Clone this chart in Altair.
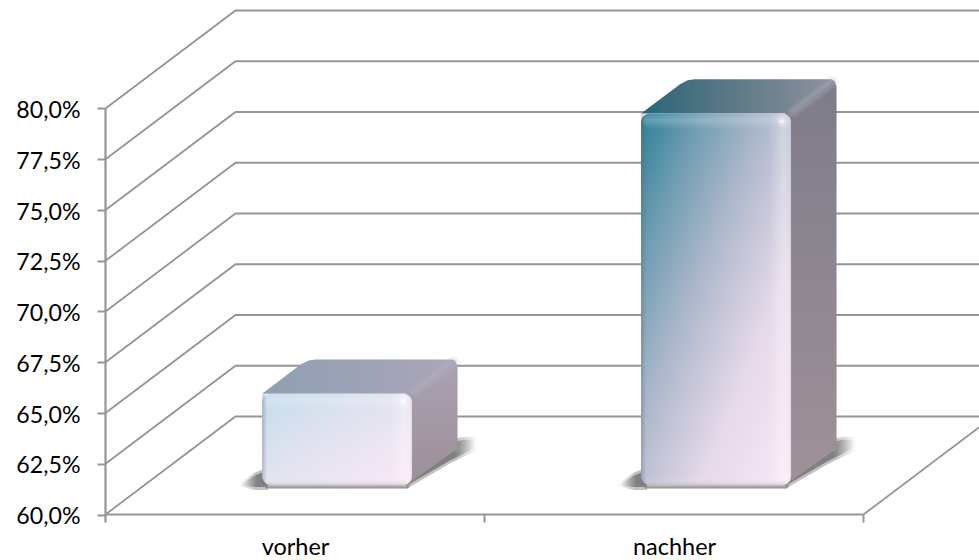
import altair as alt

# Survey result before and after, drawn as 3D columns on a walled floor.
categories = ["vorher", "nachher"]
values = [64.5, 78.3]
y_ticks = [60.0, 62.5, 65.0, 67.5, 70.0, 72.5, 75.0, 77.5, 80.0]
x_ticks = [0, 1, 2]

W, H = 979, 560
PX_X = 1 / 379.0     # category units per pixel
PX_Y = 1 / 20.3      # percentage points per pixel
FLOOR = 60.0
DEPTH_X = 130 * PX_X  # oblique shift of the back wall
DEPTH_Y = 98 * PX_Y
X_DOMAIN = [-105.5 * PX_X, (W - 105.5) * PX_X]
Y_DOMAIN = [FLOOR - (H - 514.5) * PX_Y, FLOOR + 514.5 * PX_Y]
FRONT, BACK = 0.30, 0.65
HALF = 75 * PX_X
CENTER_SHIFT = 0.508
GRID = "#959595"

X_AXIS = alt.Axis(
    values=[0.5, 1.5], tickSize=0, domain=False, grid=False, offset=-45,
    labelExpr="datum.value < 1 ? '%s' : '%s'" % tuple(categories),
    labelFont="Lato", labelFontSize=23.5, labelColor="black", labelPadding=20, labelFlush=False,
)
Y_AXIS = alt.Axis(
    values=y_ticks, tickSize=8, tickColor=GRID, tickWidth=2, domain=False, grid=False, offset=-105,
    labelExpr="replace(format(datum.value, '.1f'), '.', ',') + '%'",
    labelFont="Lato", labelFontSize=23.2, labelColor="black", labelPadding=17, labelOffset=2,
)


def proj(c, v, d=0.0):
    return {"x": c + d * DEPTH_X, "y": v + d * DEPTH_Y}


def X(**kw):
    return alt.X("x:Q", scale=alt.Scale(domain=X_DOMAIN, nice=False, zero=False), axis=X_AXIS, title=None, **kw)


def Y(**kw):
    return alt.Y("y:Q", scale=alt.Scale(domain=Y_DOMAIN, nice=False, zero=False), axis=Y_AXIS, title=None, **kw)


def grad(stops, x1=0, y1=0, x2=1, y2=1):
    return alt.Gradient(
        gradient="linear", x1=x1, y1=y1, x2=x2, y2=y2,
        stops=[alt.GradientStop(offset=o, color=c) for o, c in stops],
    )


def poly(points, color, **mark):
    """Filled shape whose outline is a top and bottom edge sharing x positions."""
    rows = [{"x": x, "y": top, "y2": bot} for x, top, bot in points]
    return alt.Chart(alt.Data(values=rows)).mark_area(color=color, clip=True, **mark).encode(
        x=X(), y=Y(), y2="y2:Q"
    )


def rect(x0, x1, y0, y1, color, **mark):
    rows = [{"x": x0, "x2": x1, "y": y1, "y2": y0}]
    return alt.Chart(alt.Data(values=rows)).mark_rect(color=color, **mark).encode(
        x=X(), x2="x2:Q", y=Y(), y2="y2:Q"
    )


layers = []

# Walls and floor: each gridline runs back along the side wall, then across the rear wall.
rows = []
for v in y_ticks:
    for k, (c, d) in enumerate([(0, 0), (0, 1), (2, 1)]):
        rows.append({**proj(c, v, d), "v": v, "k": k})
layers.append(
    alt.Chart(alt.Data(values=rows)).mark_line(color=GRID, strokeWidth=1.8, clip=True).encode(
        x=X(), y=Y(), detail="v:N", order="k:Q",
    )
)

# Right floor edge and the front axis lines with their ticks.
edge = [proj(2, FLOOR, 0), proj(2, FLOOR, 1)]
layers.append(alt.Chart(alt.Data(values=edge)).mark_line(color=GRID, strokeWidth=1.8, clip=True).encode(x=X(), y=Y()))
front_base = [proj(0, FLOOR), proj(2, FLOOR)]
layers.append(alt.Chart(alt.Data(values=front_base)).mark_line(color=GRID, strokeWidth=2.2).encode(x=X(), y=Y()))
left_axis = [proj(0, FLOOR - 8 * PX_Y), proj(0, y_ticks[-1])]
layers.append(alt.Chart(alt.Data(values=left_axis)).mark_line(color=GRID, strokeWidth=2.2).encode(x=X(), y=Y()))
for t in x_ticks[1:]:
    tick = [proj(t, FLOOR - 8 * PX_Y), proj(t, FLOOR)]
    layers.append(alt.Chart(alt.Data(values=tick)).mark_line(color=GRID, strokeWidth=2).encode(x=X(), y=Y()))

# Colour ramps per column: the short column only reaches the pale end of the ramp.
styles = [
    dict(front=[(0, "#c4dcec"), (0.5, "#e4e3f1"), (1, "#fbe8f7")],
         top=[(0, "#8f9fb2"), (1, "#aba6b8")],
         side=[(0, "#aaa2b2"), (1, "#9c8f98")]),
    dict(front=[(0, "#2c7f98"), (0.2, "#6f9db2"), (0.42, "#adb8cb"), (0.7, "#e6d9ea"), (1, "#fbe8f7")],
         top=[(0, "#2a6579"), (0.5, "#5f7a87"), (1, "#8f919f")],
         side=[(0, "#7d7c88"), (1, "#a0919a")]),
]

for i, (val, st) in enumerate(zip(values, styles)):
    c = i + CENTER_SHIFT
    l, r = c - HALF, c + HALF
    fx, fy = FRONT * DEPTH_X, FRONT * DEPTH_Y
    bx, by = BACK * DEPTH_X, BACK * DEPTH_Y
    base = FLOOR + fy
    top = val + fy
    back_base = FLOOR + by
    back_top = val + by

    # Soft cast shadow: a wide faint pass under a narrower dark one.
    for grow, fade in [(3, 0.34), (0, 0.55)]:
        ink = "rgba(75,75,75,%s)" % fade
        clear = "rgba(75,75,75,0)"
        layers.append(poly(
            [(l + fx - (20 + grow) * PX_X, base + 1 * PX_Y, base - 1 * PX_Y),
             (l + fx - 8 * PX_X, base + (9 + grow) * PX_Y, base - (2 + grow) * PX_Y),
             (l + fx + 6 * PX_X, base + (15 + grow) * PX_Y, base - (2 + grow) * PX_Y)],
            grad([(0, clear), (0.6, ink), (1, ink)], 0, 0, 1, 0),
        ))
        layers.append(poly(
            [(r + fx - 6 * PX_X, base + 6 * PX_Y, base - (1 + grow) * PX_Y),
             (r + bx - 8 * PX_X, back_base + (8 + grow) * PX_Y, back_base - (10 + grow) * PX_Y),
             (r + bx + 6 * PX_X, back_base + (11 + grow) * PX_Y, back_base - (3 + grow) * PX_Y),
             (r + bx + (17 + grow) * PX_X, back_base + (11 + grow) * PX_Y, back_base + (3 - grow) * PX_Y)],
            grad([(0, ink), (0.7, ink), (1, clear)], 0, 0, 1, 0),
        ))
    layers.append(rect(l + fx + 2 * PX_X, r + fx - 2 * PX_X, base - 3.5 * PX_Y, base + 4 * PX_Y,
                       grad([(0, "#8a8a8a"), (1, "rgba(140,140,140,0)")], 0, 1, 0, 0), cornerRadius=4))

    # Right side of the column, a parallelogram with a softened rear corner.
    layers.append(poly(
        [(r + fx - 6 * PX_X, top, base),
         (r + bx - 6 * PX_X, back_top - 0 * PX_Y, back_base - 2 * PX_Y),
         (r + bx - 2 * PX_X, back_top - 2 * PX_Y, back_base + 0 * PX_Y),
         (r + bx, back_top - 7 * PX_Y, back_base)],
        grad(st["side"], 0, 0, 0, 1),
    ))

    # Top of the column: a horizontal band sheared towards the back.
    rows = []
    steps = [(FRONT, 0, 0), (BACK - 0.05, 0, 0), (BACK - 0.01, 2.5, -1.5), (BACK, 8, -6)]
    for d, inset_l, inset_r in steps:
        rows.append({"x": l + d * DEPTH_X + inset_l * PX_X,
                     "x2": r + d * DEPTH_X + inset_r * PX_X,
                     "y": val + d * DEPTH_Y})
    layers.append(
        alt.Chart(alt.Data(values=rows)).mark_area(orient="horizontal", color=grad(st["top"], 0, 0, 1, 0)).encode(
            x=X(), x2="x2:Q", y=Y()
        )
    )

    # Bevel running from the front corner to the rear corner.
    ridge = [proj(r, val, FRONT + 0.02), proj(r, val, BACK - 0.03)]
    for width, op in [(12, 0.14), (7, 0.22)]:
        layers.append(
            alt.Chart(alt.Data(values=ridge)).mark_line(color="#b4b4c4", opacity=op, strokeWidth=width, strokeCap="round").encode(
                x=X(), y=Y()
            )
        )

    # Front face and its bevelled edges.
    layers.append(rect(l + fx, r + fx, base, top, grad(st["front"]), cornerRadius=9))
    layers.append(rect(l + fx + 2 * PX_X, r + fx, top - 16 * PX_Y, top,
                       grad([(0, "rgba(255,255,255,0.08)"), (0.4, "rgba(255,255,255,0.22)"), (1, "rgba(255,255,255,0)")], 0, 0, 0, 1),
                       cornerRadius=8))
    layers.append(rect(r + fx - 22 * PX_X, r + fx, base, top,
                       grad([(0, "rgba(255,255,255,0)"), (0.65, "rgba(255,255,255,0.3)"), (0.9, "rgba(255,255,255,0.16)"), (1, "rgba(190,185,200,0.3)")], 0, 0, 1, 0),
                       cornerRadius=8))
    layers.append(rect(l + fx, l + fx + 5 * PX_X, base, top,
                       grad([(0, "rgba(90,100,115,0.35)"), (1, "rgba(90,100,115,0)")], 0, 0, 1, 0),
                       cornerRadius=4))
    layers.append(rect(l + fx + 6 * PX_X, r + fx - 6 * PX_X, base, base + 7 * PX_Y,
                       grad([(0, "rgba(255,255,255,0)"), (1, "rgba(170,165,175,0.4)")], 0, 0, 0, 1)))

    # Small specular highlight at the front corner.
    glint = [proj(r - 9 * PX_X, val - 8 * PX_Y, FRONT)]
    for size, op in [(110, 0.14), (40, 0.28), (12, 0.7)]:
        layers.append(
            alt.Chart(alt.Data(values=glint)).mark_circle(color="white", size=size, opacity=op).encode(x=X(), y=Y())
        )

chart = (
    alt.layer(*layers)
    .properties(width=W, height=H, padding=0, background="white", autosize=alt.AutoSizeParams(type="none"))
    .configure_view(strokeWidth=0)
)

chart.save("out.html", embed_options={"renderer": "svg", "actions": False})
